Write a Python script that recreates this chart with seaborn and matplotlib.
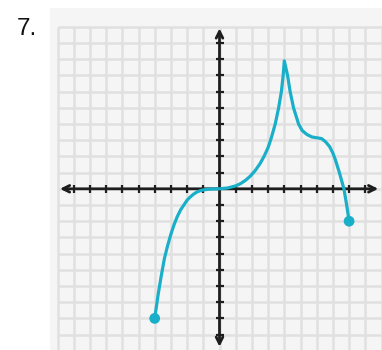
import matplotlib
matplotlib.use("Agg")
import matplotlib.pyplot as plt
import seaborn as sns
import pandas as pd

# points read along the graph of the function (x, y)
curve_x = [-4.0, -3.8, -3.6, -3.4, -3.2, -3.0, -2.8, -2.6, -2.4, -2.2, -2.0,
           -1.8, -1.6, -1.4, -1.2, -1.0, -0.6, 0.0, 0.5, 1.0, 1.3, 1.6, 1.9,
           2.2, 2.5, 2.75, 3.0, 3.2, 3.44, 3.65, 3.82, 3.93, 4.0, 4.2, 4.36,
           4.57, 4.88, 5.1, 5.4, 5.7, 6.0, 6.3, 6.55, 6.8, 7.0, 7.15, 7.4,
           7.68, 7.85, 8.0]
curve_y = [-8.0, -6.6, -5.4, -4.3, -3.5, -2.8, -2.2, -1.7, -1.3, -1.0, -0.7,
           -0.5, -0.33, -0.2, -0.12, -0.07, -0.02, 0.0, 0.05, 0.18, 0.32, 0.52,
           0.78, 1.12, 1.55, 2.0, 2.55, 3.15, 4.0, 5.0, 6.0, 7.0, 7.9, 7.0,
           6.0, 5.0, 4.0, 3.6, 3.35, 3.2, 3.15, 3.1, 2.9, 2.6, 2.2, 1.8, 1.0,
           0.0, -1.0, -2.0]

end_x = [-4, 8]
end_y = [-8, -2]

grid_values = list(range(-10, 11))
tick_values = [v for v in range(-9, 10) if v != 0]

CURVE_COLOR = "#1aafc9"
AXIS_COLOR = "#1e1e1e"
GRID_COLOR = "#e0e0e0"


def main():
    sns.set_style("white")
    plt.rcParams["font.family"] = ["Liberation Sans", "DejaVu Sans"]

    fig = plt.figure(figsize=(3.82, 3.5), dpi=100)
    ax = fig.add_axes([50 / 382, 0, 332 / 382, 342 / 350])
    ax.set_facecolor("#f5f5f5")
    for s in ax.spines.values():
        s.set_visible(False)

    # grid
    ax.vlines(grid_values, -10, 10, color=GRID_COLOR, lw=1.8, zorder=1)
    ax.hlines(grid_values, -10, 10, color=GRID_COLOR, lw=1.8, zorder=1)

    # axes with arrows
    ax.annotate("", xy=(9.8, 0), xytext=(-9.85, 0),
                arrowprops=dict(arrowstyle="<->", lw=2.0, color=AXIS_COLOR,
                                mutation_scale=12, shrinkA=0, shrinkB=0), zorder=3)
    ax.annotate("", xy=(0, 9.9), xytext=(0, -9.75),
                arrowprops=dict(arrowstyle="<->", lw=2.0, color=AXIS_COLOR,
                                mutation_scale=12, shrinkA=0, shrinkB=0), zorder=3)
    ax.plot(tick_values, [0] * len(tick_values), ls="none", marker="|",
            ms=6, mew=1.6, color=AXIS_COLOR, zorder=3)
    ax.plot([0] * len(tick_values), tick_values, ls="none", marker="_",
            ms=6, mew=1.6, color=AXIS_COLOR, zorder=3)

    df = pd.DataFrame({"x": curve_x, "y": curve_y})
    sns.lineplot(data=df, x="x", y="y", sort=False, estimator=None,
                 color=CURVE_COLOR, lw=2.3, ax=ax, zorder=4)
    sns.scatterplot(x=end_x, y=end_y, color=CURVE_COLOR, s=60,
                    edgecolor="none", ax=ax, zorder=5)

    ax.set_xlim((50 - 219.5) / 16.2, (382 - 219.5) / 16.2)
    ax.set_ylim(-9.95, 11.16)
    ax.set_xticks([])
    ax.set_yticks([])
    ax.set_xlabel("")
    ax.set_ylabel("")

    fig.text(17 / 382, 1 - 35 / 350, "7.", fontsize=17.5, color="#111111",
             va="baseline", ha="left")

    fig.savefig("out.png", dpi=100, facecolor="white")


if __name__ == "__main__":
    main()
